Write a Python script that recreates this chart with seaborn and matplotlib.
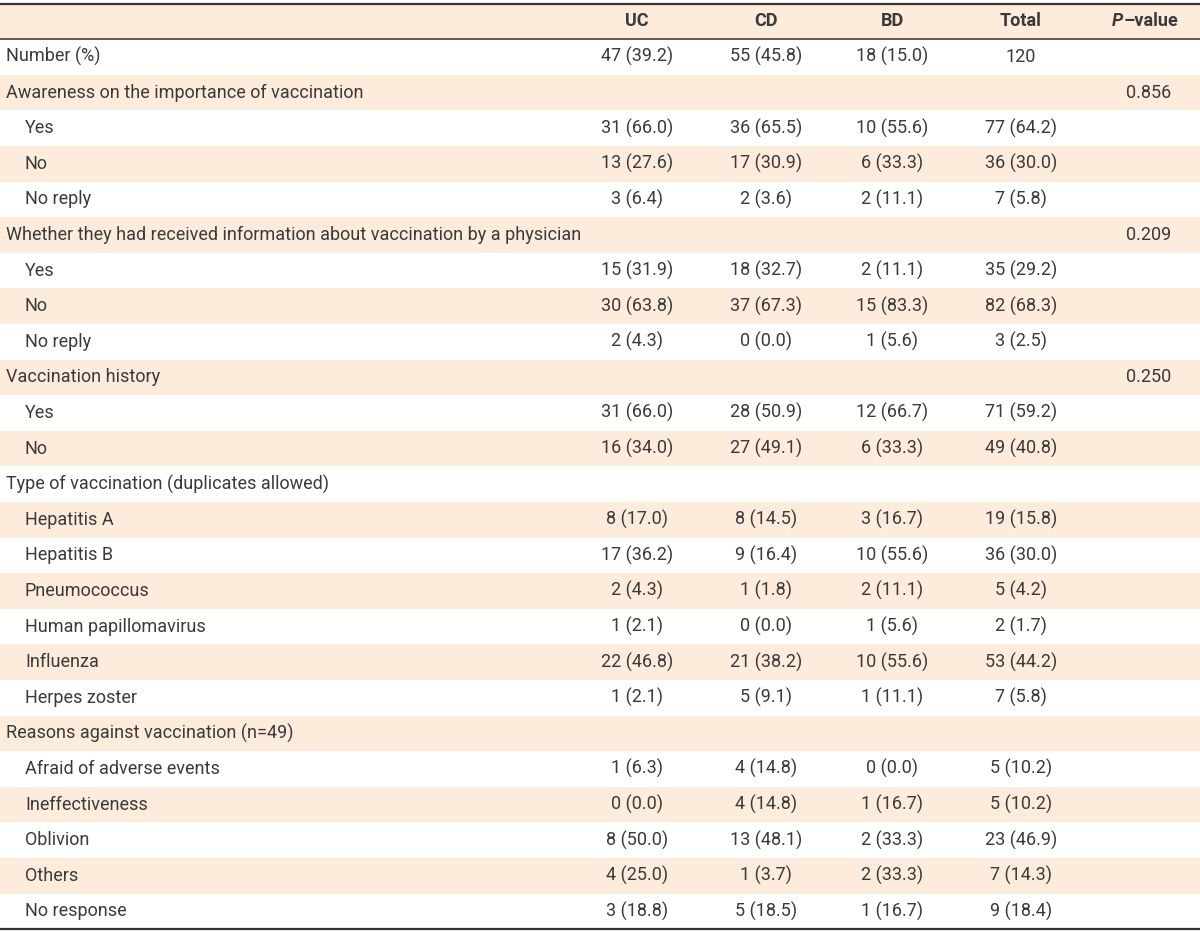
import numpy as np
import matplotlib
matplotlib.use("Agg")
import matplotlib.pyplot as plt
from matplotlib.colors import ListedColormap
import seaborn as sns

# ---------------------------------------------------------------------------
# Table data
# ---------------------------------------------------------------------------
COLUMNS = ["UC", "CD", "BD", "Total"]

ROW_LABELS = [
    "Number (%)",
    "Awareness on the importance of vaccination",
    "Yes", "No", "No reply",
    "Whether they had received information about vaccination by a physician",
    "Yes", "No", "No reply",
    "Vaccination history",
    "Yes", "No",
    "Type of vaccination (duplicates allowed)",
    "Hepatitis A", "Hepatitis B", "Pneumococcus", "Human papillomavirus",
    "Influenza", "Herpes zoster",
    "Reasons against vaccination (n=49)",
    "Afraid of adverse events", "Ineffectiveness", "Oblivion", "Others",
    "No response",
]
ROW_LEVEL = [0, 0, 1, 1, 1, 0, 1, 1, 1, 0, 1, 1, 0,
             1, 1, 1, 1, 1, 1, 0, 1, 1, 1, 1, 1]

UC = ["47 (39.2)", "", "31 (66.0)", "13 (27.6)", "3 (6.4)", "",
      "15 (31.9)", "30 (63.8)", "2 (4.3)", "", "31 (66.0)", "16 (34.0)", "",
      "8 (17.0)", "17 (36.2)", "2 (4.3)", "1 (2.1)", "22 (46.8)", "1 (2.1)", "",
      "1 (6.3)", "0 (0.0)", "8 (50.0)", "4 (25.0)", "3 (18.8)"]
CD = ["55 (45.8)", "", "36 (65.5)", "17 (30.9)", "2 (3.6)", "",
      "18 (32.7)", "37 (67.3)", "0 (0.0)", "", "28 (50.9)", "27 (49.1)", "",
      "8 (14.5)", "9 (16.4)", "1 (1.8)", "0 (0.0)", "21 (38.2)", "5 (9.1)", "",
      "4 (14.8)", "4 (14.8)", "13 (48.1)", "1 (3.7)", "5 (18.5)"]
BD = ["18 (15.0)", "", "10 (55.6)", "6 (33.3)", "2 (11.1)", "",
      "2 (11.1)", "15 (83.3)", "1 (5.6)", "", "12 (66.7)", "6 (33.3)", "",
      "3 (16.7)", "10 (55.6)", "2 (11.1)", "1 (5.6)", "10 (55.6)", "1 (11.1)", "",
      "0 (0.0)", "1 (16.7)", "2 (33.3)", "2 (33.3)", "1 (16.7)"]
TOTAL = ["120", "", "77 (64.2)", "36 (30.0)", "7 (5.8)", "",
         "35 (29.2)", "82 (68.3)", "3 (2.5)", "", "71 (59.2)", "49 (40.8)", "",
         "19 (15.8)", "36 (30.0)", "5 (4.2)", "2 (1.7)", "53 (44.2)", "7 (5.8)", "",
         "5 (10.2)", "5 (10.2)", "23 (46.9)", "7 (14.3)", "9 (18.4)"]
P_VALUES = ["", "0.856", "", "", "", "0.209", "", "", "", "0.250", "", "", "",
            "", "", "", "", "", "", "", "", "", "", "", ""]

# ---------------------------------------------------------------------------
# Style
# ---------------------------------------------------------------------------
SHADE = "#fdebdc"
TEXT = "#3a3a3a"
RULE = "#333333"
W, H = 1200, 932

sns.set_theme(style="white")
plt.rcParams["font.family"] = ["Roboto", "DejaVu Sans"]

fig = plt.figure(figsize=(W / 100, H / 100), dpi=100)
ax = fig.add_axes([0, 0, 1, 1])

n_rows = len(ROW_LABELS) + 1  # header + body
# Header row shaded, then every other body row
shade = np.array([[1 if k % 2 == 0 else 0] for k in range(n_rows)])
sns.heatmap(shade, cmap=ListedColormap(["white", SHADE]), cbar=False,
            linewidths=0, xticklabels=False, yticklabels=False, ax=ax)

row_px = 35.6
top_px = 3.5
ax.set_xlim(0, 1)
ax.set_ylim((H - top_px) / row_px, -top_px / row_px)
ax.axis("off")

FS = 13
col_x = {"UC": 637, "CD": 766, "BD": 892, "Total": 1021}
p_x = 1149

# Header
for name in COLUMNS:
    ax.text(col_x[name] / W, 0.5, name, ha="center", va="center",
            fontsize=FS, fontweight="bold", color=TEXT)
p_txt = ax.text(1112 / W, 0.5, "P", ha="left", va="center", fontsize=FS,
                fontweight="bold", fontstyle="italic", color=TEXT)
ax.annotate("\u2013value", xy=(1, 0), xycoords=p_txt, ha="left", va="bottom",
            fontsize=FS, fontweight="bold", color=TEXT)

# Body
series = {"UC": UC, "CD": CD, "BD": BD, "Total": TOTAL}
for i, label in enumerate(ROW_LABELS):
    y = i + 1.5
    x0 = 6 if ROW_LEVEL[i] == 0 else 25
    ax.text(x0 / W, y, label, ha="left", va="center", fontsize=FS, color=TEXT)
    for name in COLUMNS:
        val = series[name][i]
        if val:
            ax.text(col_x[name] / W, y, val, ha="center", va="center",
                    fontsize=FS, color=TEXT)
    if P_VALUES[i]:
        ax.text(p_x / W, y, P_VALUES[i], ha="center", va="center",
                fontsize=FS, color=TEXT)

# Rules
ax.axhline(0, color=RULE, lw=1.6)
ax.axhline(1, color=RULE, lw=1.1)
ax.axhline(n_rows, color=RULE, lw=1.6)

fig.savefig("out.png", dpi=100, facecolor="white")
